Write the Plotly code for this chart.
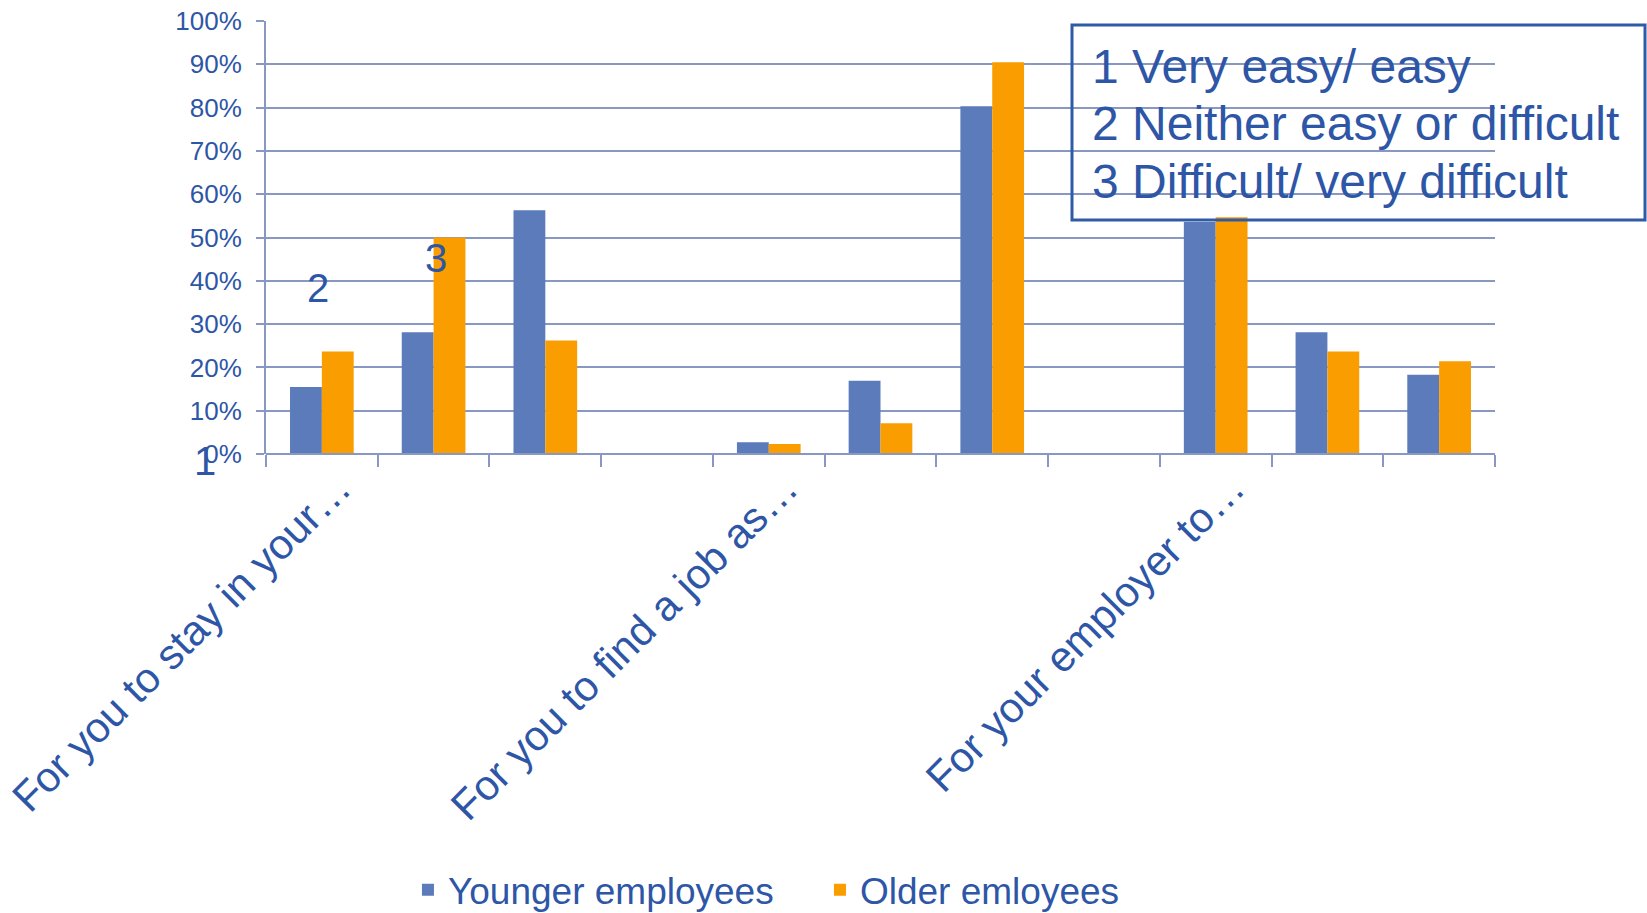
import plotly.graph_objects as go

# ---- data -------------------------------------------------------------
slot_index = list(range(11))  # 3 groups of 3 answers, separated by an empty slot
group_labels = ["For you to stay in your…", "For you to find a job as…", "For your employer to…"]
group_first_slot = [0, 4, 8]
younger = [15.5, 28.1, 56.3, None, 2.7, 16.9, 80.3, None, 53.6, 28.1, 18.3]
older = [23.7, 50.0, 26.2, None, 2.3, 7.1, 90.5, None, 54.7, 23.7, 21.4]
series_names = ["Younger employees", "Older emloyees"]
y_ticks = list(range(0, 101, 10))
answer_key = ["1 Very easy/ easy", "2 Neither easy or difficult", "3 Difficult/ very difficult"]
stray_numbers = ["2", "3", "1"]

# ---- style ------------------------------------------------------------
W, H = 1647, 913
L, R, T, B = 266, 1495, 21, 454
BLUE = "#5B7BBA"
ORANGE = "#FA9D00"
TXT = "#2E56A6"
GRID = "#8898C3"
FONT = "Arial, Liberation Sans, sans-serif"


def px_x(p):
    return (p - L) / (R - L)


def px_y(p):
    return (B - p) / (B - T)


fig = go.Figure()
fig.add_trace(go.Bar(x=slot_index, y=younger, name=series_names[0],
                     marker=dict(color=BLUE, line=dict(width=0))))
fig.add_trace(go.Bar(x=slot_index, y=older, name=series_names[1],
                     marker=dict(color=ORANGE, line=dict(width=0))))

label_pos = [s + 0.15 for s in group_first_slot]

fig.update_layout(
    width=W, height=H, autosize=False,
    margin=dict(l=L, r=W - R, t=T, b=H - B, pad=0, autoexpand=False),
    paper_bgcolor="white", plot_bgcolor="white",
    barmode="group", bargap=0.43, bargroupgap=0,
    font=dict(family=FONT, color=TXT),
    showlegend=True,
    legend=dict(orientation="h", xref="container", yref="container",
                x=0.2477, y=0.025, xanchor="left", yanchor="middle",
                font=dict(size=37, color=TXT), entrywidth=367,
                entrywidthmode="pixels", itemclick=False, bgcolor="rgba(0,0,0,0)"),
    xaxis=dict(range=[-0.5, 10.5], showgrid=False, zeroline=False,
               showline=False, automargin=False, ticklabeloverflow="allow",
               tickmode="array", tickvals=label_pos, ticktext=group_labels,
               ticks="", tickangle=-45, tickfont=dict(size=42, color=TXT),
               ticklabelstandoff=0,
               minor=dict(ticks="outside", ticklen=12, tickwidth=2, tickcolor=GRID,
                          tick0=-0.5, dtick=1, showgrid=False)),
    yaxis=dict(range=[0, 100], tickmode="array", tickvals=y_ticks,
               ticktext=[f"{v}%" for v in y_ticks], automargin=False,
               ticklabeloverflow="allow",
               showgrid=True, gridcolor=GRID, gridwidth=2,
               zeroline=False, showline=True, linecolor=GRID, linewidth=2,
               ticks="outside", ticklen=8, tickwidth=2, tickcolor=GRID,
               tickfont=dict(size=26, color=TXT), ticklabelstandoff=9),
)

# bottom axis line (0% gridline is drawn by the y grid)
fig.add_shape(type="line", xref="paper", yref="paper", x0=0, x1=1, y0=0, y1=0,
              line=dict(color=GRID, width=2), layer="above")

# answer-key box
fig.add_shape(type="rect", xref="paper", yref="paper",
              x0=px_x(1072), x1=px_x(1645), y0=px_y(220), y1=px_y(25),
              line=dict(color="#2E5AA8", width=3), fillcolor="rgba(0,0,0,0)",
              layer="above")
for txt, yc in zip(answer_key, [66, 124, 181.5]):
    fig.add_annotation(xref="paper", yref="paper", x=px_x(1090), y=px_y(yc),
                       xanchor="left", yanchor="middle", text=txt, showarrow=False,
                       font=dict(size=48, color=TXT, family=FONT))

# stray category numbers
for txt, (cx, cy) in zip(stray_numbers, [(317.5, 288), (436, 257.5), (205, 461)]):
    fig.add_annotation(xref="paper", yref="paper", x=px_x(cx), y=px_y(cy),
                       xanchor="center", yanchor="middle", text=txt, showarrow=False,
                       font=dict(size=40, color=TXT, family=FONT))

fig.write_html("out.html")
